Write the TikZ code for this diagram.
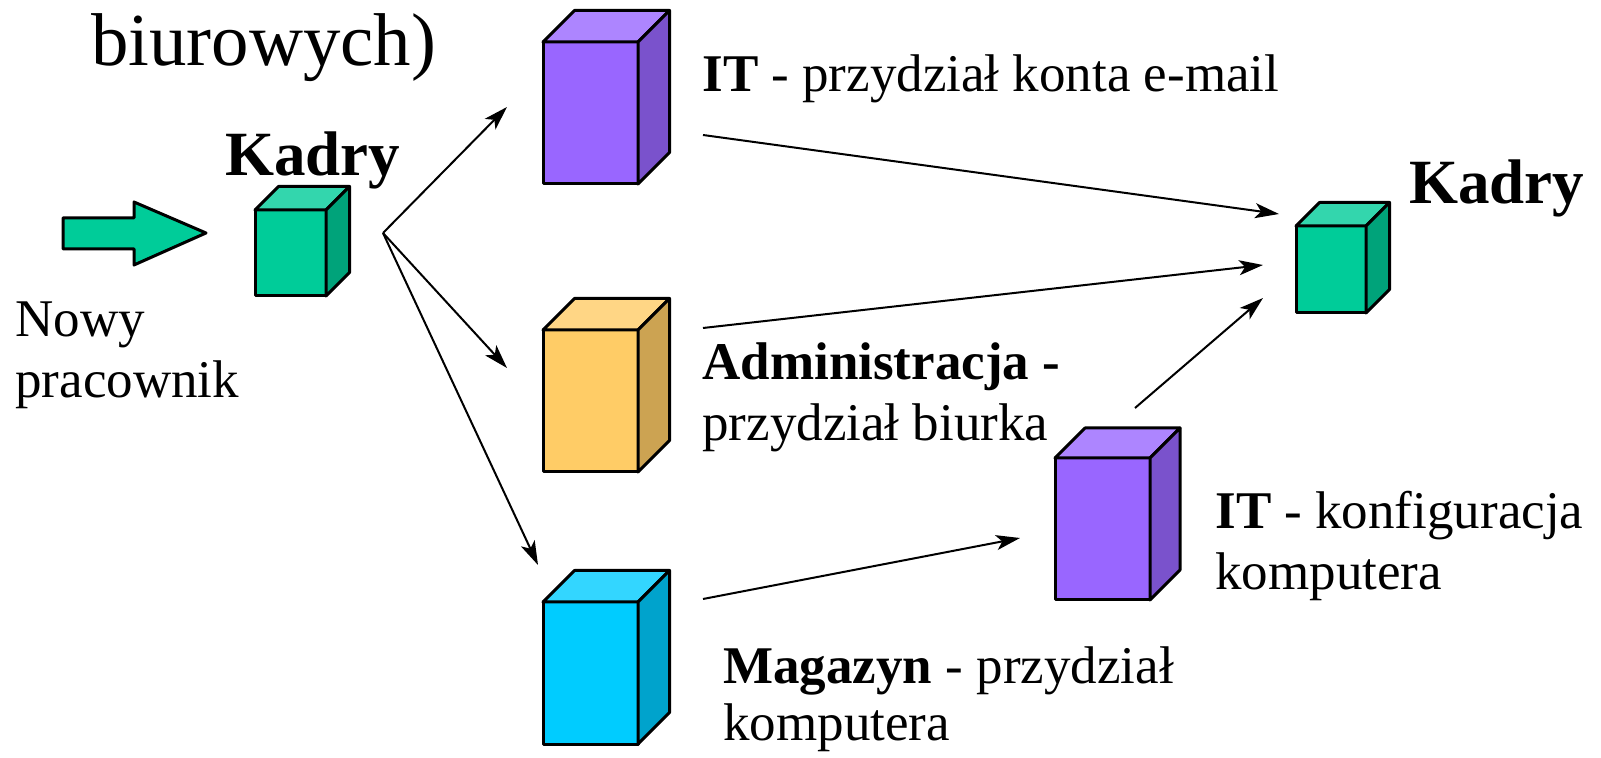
\documentclass[tikz,border=0pt]{standalone}
\usepackage{fontspec}
\setmainfont{Liberation Serif}
\usetikzlibrary{arrows.meta}

% face colours of the boxes: front, top (lighter), side (darker)
\definecolor{grnF}{HTML}{00CC99}\definecolor{grnT}{HTML}{33D6AD}\definecolor{grnS}{HTML}{00A37A}
\definecolor{vioF}{HTML}{9966FF}\definecolor{vioT}{HTML}{AD85FF}\definecolor{vioS}{HTML}{7A52CC}
\definecolor{yelF}{HTML}{FFCC66}\definecolor{yelT}{HTML}{FFD685}\definecolor{yelS}{HTML}{CCA352}
\definecolor{cyaF}{HTML}{00CCFF}\definecolor{cyaT}{HTML}{33D6FF}\definecolor{cyaS}{HTML}{00A3CC}

\tikzset{
  face/.style={draw=black, line width=1.5pt, line join=round},
  flow/.style={line width=1pt, -{Stealth[length=12pt,width=7.5pt,inset=3pt]}},
  lbl/.style={inner sep=0pt, anchor=base west, font=\fontsize{26.5pt}{30pt}\selectfont},
  big/.style={inner sep=0pt, anchor=base west, font=\fontsize{37.4pt}{42pt}\selectfont},
  head/.style={inner sep=0pt, anchor=base west, font=\fontsize{31.5pt}{36pt}\selectfont\bfseries},
}

% box: name, x, y (top-left of front face), width, height, depth, colour prefix
\newcommand\drawbox[7]{%
  \node[face, fill=#7F, minimum width={#4*0.5pt}, minimum height={#5*0.5pt},
        inner sep=0pt, outer sep=0pt, anchor=north west] (#1) at (#2,#3) {};
  \draw[face, fill=#7T] (#1.north west) -- ++(#6,-#6) -- ++(#4,0) -- (#1.north east) -- cycle;
  \draw[face, fill=#7S] (#1.north east) -- ++(#6,-#6) -- ++(0,#5) -- (#1.south east) -- cycle;
}

\begin{document}
\begin{tikzpicture}[x=0.5pt, y=-0.5pt]
\useasboundingbox (0,0) rectangle (1601,758);

% title fragment
\node[big] (title) at (91,66) {biurowych)};

% incoming employee arrow
\draw[face, fill=grnF] (63,218) -- (134,218) -- (134,202) -- (206,233)
  -- (134,265) -- (134,249) -- (63,249) -- cycle;
\node[lbl] (nowy) at (15,337) {Nowy};
\node[lbl] (prac) at (15,398) {pracownik};

% boxes
\drawbox{hrA}{255}{210}{71}{86}{23.5}{grn}
\drawbox{itA}{543}{42}{95}{142}{31.5}{vio}
\drawbox{adm}{543}{330}{95}{142}{31.5}{yel}
\drawbox{mag}{543}{602}{95}{142}{31.5}{cya}
\drawbox{itB}{1055}{458}{95}{142}{30}{vio}
\drawbox{hrB}{1296}{226}{70}{87}{23.5}{grn}

% labels
\node[head] (hrAlbl) at (225,176) {Kadry};
\node[head] (hrBlbl) at (1409,204) {Kadry};
\node[lbl] (itAlbl) at (702,92) {\textbf{IT} - przydział konta e-mail};
\node[lbl] (admlbl) at (702,380) {\textbf{Administracja -}};
\node[lbl] (admlbl2) at (702,441) {przydział biurka};
\node[lbl] (itBlbl) at (1215,529) {\textbf{IT} - konfiguracja};
\node[lbl] (itBlbl2) at (1215,590) {komputera};
\node[lbl] (maglbl) at (723,683) {\textbf{Magazyn} - przydział};
\node[lbl] (maglbl2) at (723,740) {komputera};

% connector end points
\coordinate (fan) at (383,233);
\coordinate (toIt) at (507,107);
\coordinate (toAdm) at (507,368);
\coordinate (toMag) at (538,565);
\coordinate (itOut) at (703,135);
\coordinate (admOut) at (703,328);
\coordinate (magOut) at (703,599);
\coordinate (itBin) at (1020,538);
\coordinate (itBout) at (1135,408);
\coordinate (hrIn1) at (1279,214);
\coordinate (hrIn2) at (1263,265);
\coordinate (hrIn3) at (1263,298);

% connectors
\draw[flow] (fan) -- (toIt);
\draw[flow] (fan) -- (toAdm);
\draw[flow] (fan) -- (toMag);
\draw[flow] (itOut) -- (hrIn1);
\draw[flow] (admOut) -- (hrIn2);
\draw[flow] (magOut) -- (itBin);
\draw[flow] (itBout) -- (hrIn3);
\end{tikzpicture}
\end{document}
